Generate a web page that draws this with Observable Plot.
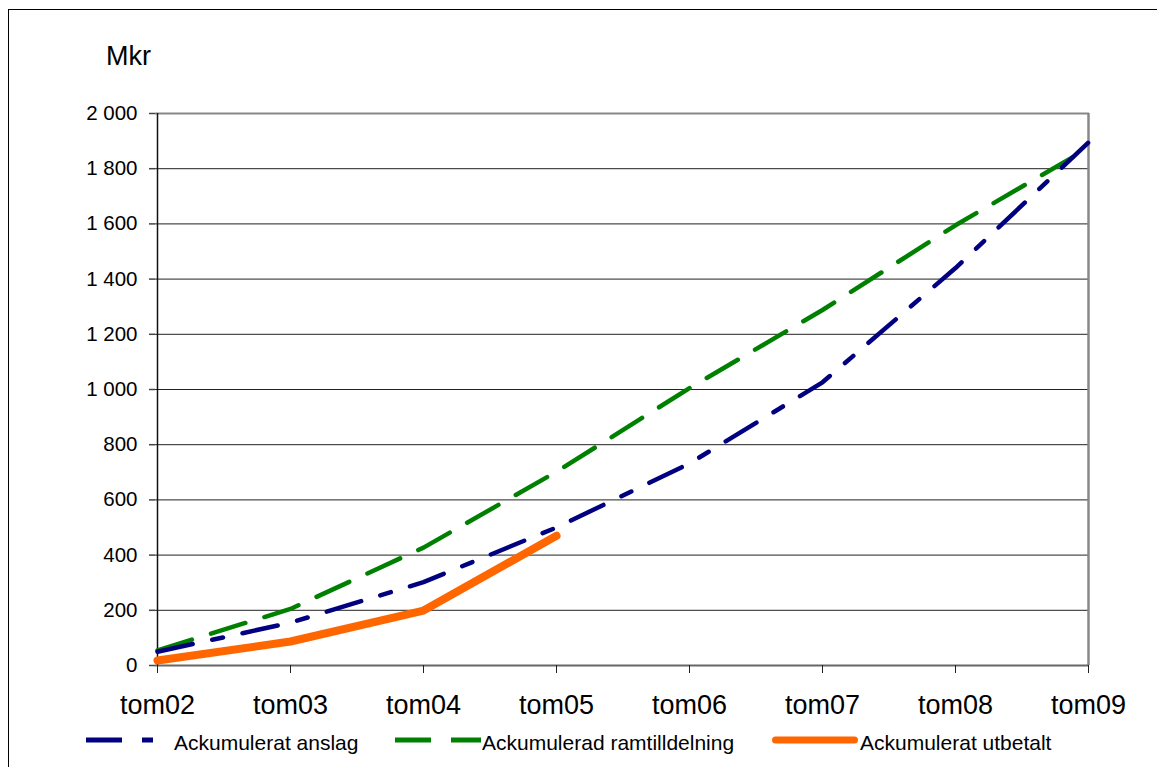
<!DOCTYPE html>
<html>
<head>
<meta charset="utf-8">
<script src="https://cdn.jsdelivr.net/npm/d3@7"></script>
<script src="https://cdn.jsdelivr.net/npm/@observablehq/plot@0.6"></script>
<style>
  html, body { margin: 0; padding: 0; background: #fff; }
  #wrap { position: relative; width: 1157px; height: 767px; overflow: hidden; font-family: Arial, "Liberation Sans", sans-serif; color: #000; }
  #frame { position: absolute; left: 8px; top: 9px; width: 1300px; height: 900px; border: 1px solid #000; box-sizing: border-box; pointer-events: none; }
  #head { position: relative; height: 90px; }
  #unit { position: absolute; left: 106px; top: 43px; font-size: 27px; line-height: 27px; }
  #chart svg { display: block; }
  #legend { position: relative; height: 47px; }
  .sw { position: absolute; top: 10px; }
  .lt { position: absolute; top: 12px; font-size: 21px; line-height: 21px; white-space: nowrap; }
</style>
</head>
<body>
<div id="wrap">
  <div id="frame"></div>
  <div id="head"><span id="unit">Mkr</span></div>
  <div id="chart"></div>
  <div id="legend"></div>
</div>
<script>
const categories = ["tom02", "tom03", "tom04", "tom05", "tom06", "tom07", "tom08", "tom09"];
const anslag = [50, 155, 302, 500, 732, 1026, 1440, 1895];
const ramtilldelning = [55, 205, 427, 702, 1005, 1288, 1595, 1875];
const utbetaltCategories = ["tom02", "tom03", "tom04", "tom05"];
const utbetalt = [18, 87, 199, 470];
const yTicks = [0, 200, 400, 600, 800, 1000, 1200, 1400, 1600, 1800, 2000];
const seriesNames = ["Ackumulerat anslag", "Ackumulerad ramtilldelning", "Ackumulerat utbetalt"];

const anslagData = categories.map((c, i) => ({x: c, y: anslag[i]}));
const ramData = categories.map((c, i) => ({x: c, y: ramtilldelning[i]}));
const utbData = utbetaltCategories.map((c, i) => ({x: c, y: utbetalt[i]}));

const fmt = d => d3.format(",")(d).replace(/,/g, " ");

const chart = Plot.plot({
  width: 1157,
  height: 630,
  marginTop: 23,
  marginBottom: 55,
  marginLeft: 155,
  marginRight: 68,
  style: {fontFamily: 'Arial, "Liberation Sans", sans-serif', color: "#000", background: "transparent", overflow: "visible"},
  x: {type: "point", domain: categories, padding: 0},
  y: {domain: [0, 2000]},
  marks: [
    Plot.ruleY(yTicks.filter(d => d > 0 && d < 2000), {stroke: "#222", strokeWidth: 1}),
    Plot.ruleY([2000], {stroke: "#888", strokeWidth: 2}),
    Plot.ruleX([categories[categories.length - 1]], {stroke: "#888", strokeWidth: 2.5}),
    Plot.ruleY([0], {stroke: "#666", strokeWidth: 2}),
    Plot.ruleX([categories[0]], {stroke: "#111", strokeWidth: 1.5}),
    Plot.axisY({ticks: yTicks, tickFormat: fmt, tickSize: 6, tickPadding: 12, fontSize: 20.5, stroke: "#444", strokeWidth: 1.5, label: null}),
    Plot.axisX({tickSize: 8, tickPadding: 21, fontSize: 27, stroke: "#222", strokeWidth: 1, label: null}),
    Plot.line(ramData, {x: "x", y: "y", stroke: "#008000", strokeWidth: 4.5, strokeDasharray: "36,20"}),
    Plot.line(anslagData, {x: "x", y: "y", stroke: "#000080", strokeWidth: 4.5, strokeDasharray: "36,20,11,20"}),
    Plot.line(utbData, {x: "x", y: "y", stroke: "#FF6600", strokeWidth: 8, strokeLinecap: "round", strokeLinejoin: "round"})
  ]
});
document.getElementById("chart").appendChild(chart);

// Legend
const legendItems = [
  {name: seriesNames[0], color: "#000080", width: 5, dash: "36,20,11,20", cap: "butt", x: 86, tx: 174},
  {name: seriesNames[1], color: "#008000", width: 5, dash: "36,20", cap: "butt", x: 395, tx: 482},
  {name: seriesNames[2], color: "#FF6600", width: 7, dash: null, cap: "round", x: 772, tx: 860}
];
const legend = document.getElementById("legend");
const ns = "http://www.w3.org/2000/svg";
for (const it of legendItems) {
  const svg = document.createElementNS(ns, "svg");
  svg.setAttribute("width", 86);
  svg.setAttribute("height", 20);
  svg.setAttribute("class", "sw");
  svg.style.left = it.x + "px";
  const ln = document.createElementNS(ns, "line");
  const inset = it.cap === "round" ? it.width / 2 : 0;
  ln.setAttribute("x1", inset);
  ln.setAttribute("x2", 86 - inset);
  ln.setAttribute("y1", 10);
  ln.setAttribute("y2", 10);
  ln.setAttribute("stroke", it.color);
  ln.setAttribute("stroke-width", it.width);
  ln.setAttribute("stroke-linecap", it.cap);
  if (it.dash) ln.setAttribute("stroke-dasharray", it.dash);
  svg.appendChild(ln);
  legend.appendChild(svg);
  const t = document.createElement("span");
  t.className = "lt";
  t.style.left = it.tx + "px";
  t.textContent = it.name;
  legend.appendChild(t);
}
</script>
</body>
</html>
